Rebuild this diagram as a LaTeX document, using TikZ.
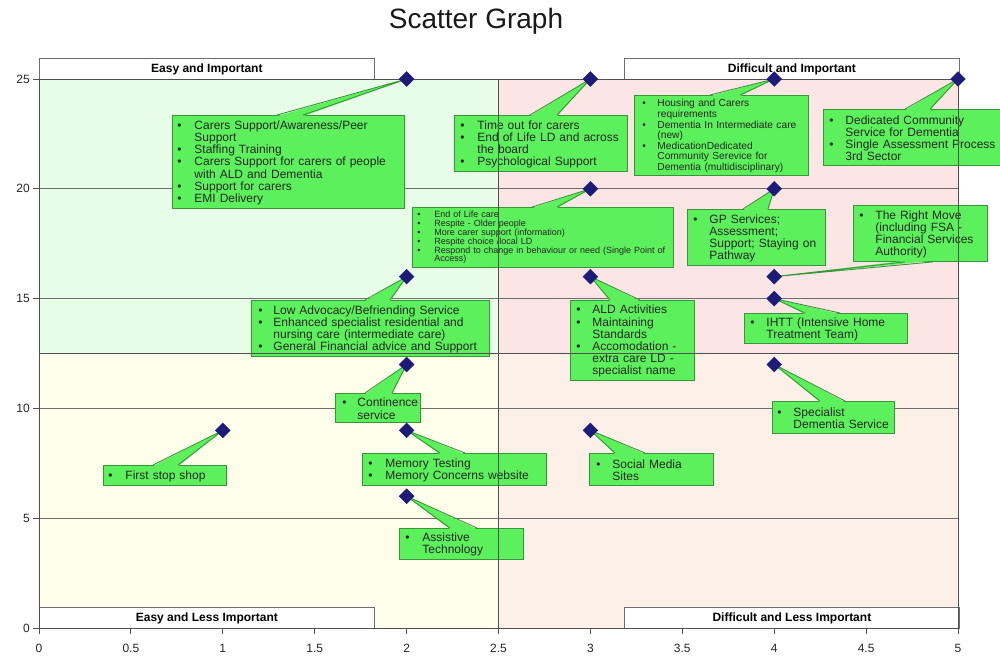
\documentclass[tikz,border=0pt]{standalone}
\usepackage{fontspec}
\setmainfont{Liberation Sans}
\usetikzlibrary{shapes.geometric,calc}

\definecolor{qul}{RGB}{232,253,232}
\definecolor{qur}{RGB}{252,229,229}
\definecolor{qll}{RGB}{255,254,234}
\definecolor{qlr}{RGB}{252,240,233}
\definecolor{cfillc}{RGB}{92,240,92}
\definecolor{clinec}{RGB}{56,150,56}
\definecolor{gridc}{RGB}{110,110,110}
\definecolor{framec}{RGB}{80,80,80}
\definecolor{markc}{RGB}{28,28,120}
\definecolor{txtc}{RGB}{35,40,35}

\tikzset{
  cbox/.style={draw=clinec, fill=cfillc, line width=0.9pt, rectangle, inner sep=0pt,
    anchor=north west, align=left, text=txtc},
  cfill/.style={fill=cfillc},
  cline/.style={draw=clinec, line width=0.9pt, line join=round},
  hdr/.style={draw=gridc, fill=white, line width=0.8pt, minimum width=335pt,
    minimum height=21pt, inner sep=0pt, anchor=north west,
    font=\bfseries\fontsize{12}{14}\selectfont},
  datamark/.style={diamond, aspect=1, fill=markc, draw=markc, minimum size=15pt, inner sep=0pt},
  gridln/.style={draw=gridc, line width=0.8pt},
  frame/.style={draw=framec, line width=0.9pt},
  axlbl/.style={font=\fontsize{12}{14}\selectfont, text=black!85, inner sep=0pt}
}

% fonts used inside the callouts
\newcommand\fA{\fontsize{12}{12.2}\selectfont}
\newcommand\fB{\fontsize{10.2}{10.6}\selectfont}
\newcommand\fC{\fontsize{9}{8.8}\selectfont}

% one bulleted entry: #1 = gap between bullet and text, #2 = text
\newcommand\itm[2]{\par\hangindent=#1pt\hangafter=1\noindent\makebox[#1pt][l]{\textbullet}#2\par}

% callout box: name, left, top, width, height, bullet offset, font, entries
\newcommand\bx[8]{\node[cbox, text width=#4pt, minimum height=#5pt, font=#7] (#1) at (#2,#3) {\leftskip=#6pt\relax #8\par\vspace{2pt}};}

% wedge from the top edge of a box to a data point
\newcommand\ptr[4]{%
  \fill[cfill] ($(#1.north west)+(#2,1.2)$) -- (#4) -- ($(#1.north west)+(#3,1.2)$) -- cycle;
  \draw[cline] ($(#1.north west)+(#2,0)$) -- (#4) -- ($(#1.north west)+(#3,0)$);}
% wedge from the bottom edge of a box to a data point
\newcommand\ptrb[4]{%
  \fill[cfill] ($(#1.south west)+(#2,-1.2)$) -- (#4) -- ($(#1.south west)+(#3,-1.2)$) -- cycle;
  \draw[cline] ($(#1.south west)+(#2,0)$) -- (#4) -- ($(#1.south west)+(#3,0)$);}

% data point in axis units
\newcommand\dpt[3]{\coordinate (#1) at ({39+183.8*#2},{628-21.96*#3});}

\begin{document}
\begin{tikzpicture}[x=1pt,y=-1pt]
\useasboundingbox (0,0) rectangle (1000,657);

% title
\node[font=\fontsize{28}{32}\selectfont, text=black!90] (title) at (476,21) {Scatter Graph};

% quadrant backgrounds
\fill[qul] (39,79) rectangle (498.5,353.5);
\fill[qur] (498.5,79) rectangle (958,353.5);
\fill[qll] (39,353.5) rectangle (498.5,628);
\fill[qlr] (498.5,353.5) rectangle (958,628);

% horizontal gridlines
\foreach \v in {5,10,15,20,25}
  \draw[gridln] (39,{628-21.96*\v}) -- (958,{628-21.96*\v});

% quadrant headings
\node[hdr] (hEI) at (39,58) {Easy and Important};
\node[hdr] (hDI) at (624,58) {Difficult and Important};
\node[hdr] (hEL) at (39,607) {Easy and Less Important};
\node[hdr] (hDL) at (624,607) {Difficult and Less Important};

% data points
\dpt{pA}{2}{25} \dpt{pB}{3}{25} \dpt{pC}{4}{25} \dpt{pD}{5}{25}
\dpt{pE}{3}{20} \dpt{pF}{4}{20}
\dpt{pG}{2}{16} \dpt{pH}{3}{16} \dpt{pI}{4}{16} \dpt{pJ}{4}{15}
\dpt{pK}{2}{12} \dpt{pL}{4}{12}
\dpt{pM}{1}{9} \dpt{pN}{2}{9} \dpt{pO}{3}{9} \dpt{pP}{2}{6}

% callouts
\bx{bA}{172}{115}{232}{93}{5}{\fA}{%
  \itm{17}{Carers Support/Awareness/Peer\newline Support}%
  \itm{17}{Staffing Training}%
  \itm{17}{Carers Support for carers of people\newline with ALD and Dementia}%
  \itm{17}{Support for carers}%
  \itm{17}{EMI Delivery}}
\ptr{bA}{105}{131}{pA}

\bx{bB}{454}{115}{173}{56}{6}{\fA}{%
  \itm{17}{Time out for carers}%
  \itm{17}{End of Life LD and across\newline the board}%
  \itm{17}{Psychological Support}}
\ptr{bB}{76}{103}{pB}

\bx{bC}{634}{95}{174}{80}{8}{\fB}{%
  \itm{15}{Housing and Carers\newline requirements}%
  \itm{15}{Dementia In Intermediate care\newline (new)}%
  \itm{15}{MedicationDedicated\newline Community Serevice for\newline Dementia (multidisciplinary)}}
\ptr{bC}{76}{106}{pC}

\bx{bD}{823}{109}{177}{56}{6}{\fA}{%
  \itm{16}{Dedicated Community\newline Service for Dementia}%
  \itm{16}{Single Assessment Process\newline 3rd Sector}}
\ptr{bD}{82}{107}{pD}

\bx{bE}{412}{207}{261}{60}{5}{\fC}{%
  \itm{17}{End of Life care}%
  \itm{17}{Respite - Older people}%
  \itm{17}{More carer support (information)}%
  \itm{17}{Respite choice /local LD}%
  \itm{17}{Respond to change in behaviour or need (Single Point of\newline Access)}}
\ptr{bE}{120}{145}{pE}

\bx{bF}{687}{209}{138}{56}{6}{\fA}{%
  \itm{16}{GP Services;\newline Assessment;\newline Support; Staying on\newline Pathway}}
\ptr{bF}{56}{81}{pF}

\bx{bG}{853}{205}{134}{56}{6}{\fA}{%
  \itm{16}{The Right Move\newline (including FSA -\newline Financial Services\newline Authority)}}
\ptrb{bG}{52}{80}{pI}

\bx{bH}{251}{300}{238}{56}{7}{\fA}{%
  \itm{15}{Low Advocacy/Befriending Service}%
  \itm{15}{Enhanced specialist residential and\newline nursing care (intermediate care)}%
  \itm{15}{General Financial advice and Support}}
\ptr{bH}{114}{139}{pG}

\bx{bI}{570}{300}{124}{80}{6}{\fA}{%
  \itm{16}{ALD Activities}%
  \itm{16}{Maintaining\newline Standards}%
  \itm{16}{Accomodation -\newline extra care LD -\newline specialist name}}
\ptr{bI}{40}{70}{pH}

\bx{bJ}{744}{313}{163}{30}{6}{\fA}{%
  \itm{16}{IHTT (Intensive Home\newline Treatment Team)}}
\ptr{bJ}{61}{96}{pJ}

\bx{bK}{335}{393}{85}{29}{7}{\fA}{%
  \itm{15}{Continence\newline service}}
\ptr{bK}{30}{57}{pK}

\bx{bL}{772}{401}{122}{32}{5}{\fA}{%
  \itm{16}{Specialist\newline Dementia Service}}
\ptr{bL}{48}{73}{pL}

\bx{bM}{103}{465}{123}{20}{5}{\fA}{%
  \itm{17}{First stop shop}}
\ptr{bM}{50}{75}{pM}

\bx{bN}{362}{453}{184}{32}{6}{\fA}{%
  \itm{17}{Memory Testing}%
  \itm{17}{Memory Concerns website}}
\ptr{bN}{78}{103}{pN}

\bx{bO}{589}{453}{124}{32}{7}{\fA}{%
  \itm{16}{Social Media\newline Sites}}
\ptr{bO}{26}{56}{pO}

\bx{bP}{399}{528}{124}{31}{6}{\fA}{%
  \itm{17}{Assistive\newline Technology}}
\ptr{bP}{51}{78}{pP}

% quadrant dividers and plot frame
\draw[frame] (39,79) rectangle (958,628);
\draw[frame] (498.5,79) -- (498.5,628);
\draw[frame] (39,353.5) -- (958,353.5);

% axes ticks and labels
\foreach \v [count=\i] in {0,5,10,15,20,25} {
  \draw[frame] (33,{628-21.96*\v}) -- (39,{628-21.96*\v});
  \node[axlbl, anchor=east] (yl\i) at (30,{628-21.96*\v}) {\v};
}
\foreach \v [count=\i] in {0,0.5,1,1.5,2,2.5,3,3.5,4,4.5,5} {
  \draw[frame] ({39+183.8*\v},628) -- ({39+183.8*\v},634);
  \node[axlbl] (xl\i) at ({39+183.8*\v},648) {\v};
}

% markers
\foreach \p in {pA,pB,pC,pD,pE,pF,pG,pH,pI,pJ,pK,pL,pM,pN,pO,pP}
  \node[datamark] (m\p) at (\p) {};
\end{tikzpicture}
\end{document}
